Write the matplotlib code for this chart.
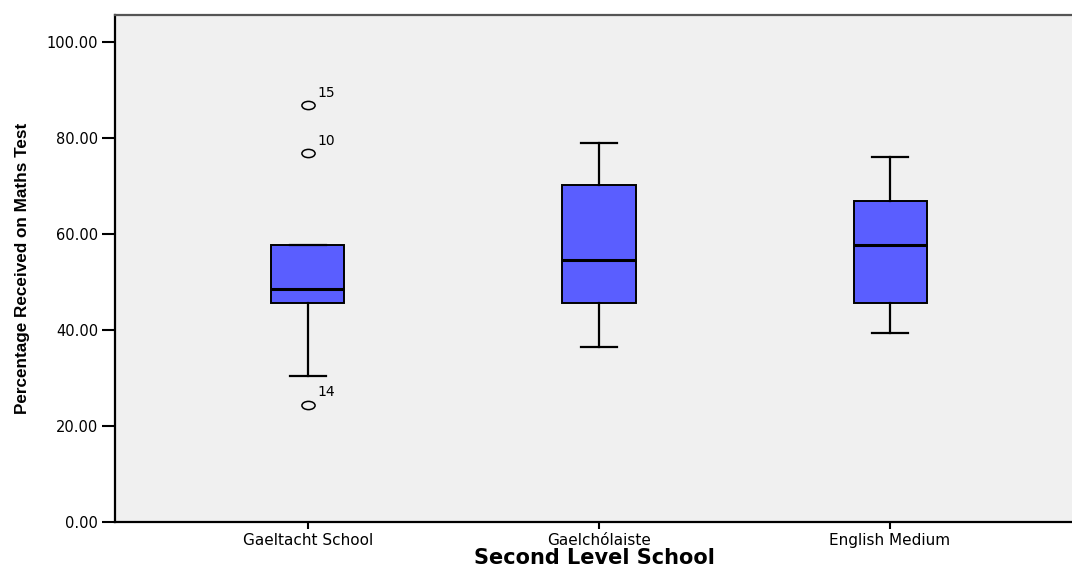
import matplotlib
matplotlib.use("Agg")
import matplotlib.pyplot as plt
from matplotlib import font_manager
from matplotlib.path import Path
from matplotlib.transforms import Affine2D

categories = ["Gaeltacht School", "Gaelchólaiste", "English Medium"]
whis_low = [30.4, 36.5, 39.4]
q1 = [45.6, 45.6, 45.6]
median = [48.6, 54.7, 57.7]
q3 = [57.8, 70.2, 66.9]
whis_high = [57.8, 79.0, 76.1]
outliers = [[86.9, 76.9, 24.4], [], []]
outlier_ids = [["15", "10", "14"], [], []]
yticks = [0, 20, 40, 60, 80, 100]

def has_font(name):
    try:
        font_manager.findfont(font_manager.FontProperties(family=name), fallback_to_default=False)
        return True
    except Exception:
        return False

if has_font("Liberation Sans Narrow"):
    ylab_family, ylab_size = "Liberation Sans Narrow", 14
else:
    ylab_family, ylab_size = "Liberation Sans", 12.3

fig = plt.figure(figsize=(10.72, 5.66), dpi=100)
fig.patch.set_facecolor("white")
left = 115 / 1072
right = 1083 / 1072
bottom = (566 - 522) / 566
top = (566 - 15) / 566
ax = fig.add_axes([left, bottom, right - left, top - bottom])
ax.set_facecolor("#f0f0f0")

positions = [1, 2, 3]
stats = []
for i in range(3):
    stats.append(dict(whislo=whis_low[i], q1=q1[i], med=median[i], q3=q3[i],
                      whishi=whis_high[i], fliers=[]))

ax.bxp(stats, positions=positions, widths=0.251, capwidths=0.126,
       patch_artist=True, showfliers=False,
       boxprops=dict(facecolor="#5a5eff", edgecolor="black", linewidth=1.4),
       medianprops=dict(color="black", linewidth=2.2),
       whiskerprops=dict(color="black", linewidth=1.6),
       capprops=dict(color="black", linewidth=1.6),
       zorder=3)

ellipse = Path.unit_circle().transformed(Affine2D().scale(1.6, 1.0))
for i in range(3):
    for v, lab in zip(outliers[i], outlier_ids[i]):
        ax.plot([positions[i]], [v], marker=ellipse, markersize=9.5,
                markerfacecolor="none", markeredgecolor="black",
                markeredgewidth=1.1, linestyle="none", zorder=4)
        ax.annotate(lab, (positions[i], v), xytext=(6.5, 4), textcoords="offset points",
                    ha="left", va="bottom", fontsize=10, family="DejaVu Sans",
                    color="black")

ax.set_xlim(0.337, 3.663)
ax.set_ylim(0, 105.7)
ax.set_yticks(yticks)
ax.set_yticklabels([f"{t:.2f}" for t in yticks], fontsize=10.5, family="DejaVu Sans")
ax.set_xticks(positions)
ax.set_xticklabels(categories, fontsize=11, family="DejaVu Sans")
ax.tick_params(axis="y", length=9.5, width=1.5, pad=2.5, direction="out")
ax.tick_params(axis="x", length=5, width=1.5, pad=3, direction="out")

ax.spines["left"].set_linewidth(1.6)
ax.spines["bottom"].set_linewidth(1.6)
ax.spines["top"].set_linewidth(1.6)
ax.spines["top"].set_color("#555555")
ax.spines["right"].set_visible(False)

ax.set_xlabel("Second Level School", fontsize=15, fontweight="bold",
              family="DejaVu Sans")
ax.set_ylabel("Percentage Received on Maths Test", fontsize=ylab_size,
              fontweight="bold", family=ylab_family)
ax.xaxis.set_label_coords((594 - 115) / (1083 - 115), -(564 - 522) / (522 - 15))
ax.xaxis.label.set_verticalalignment("baseline")
ax.yaxis.set_label_coords(-(115 - 30) / (1083 - 115), 0.5)

fig.savefig("out.png", dpi=100)
